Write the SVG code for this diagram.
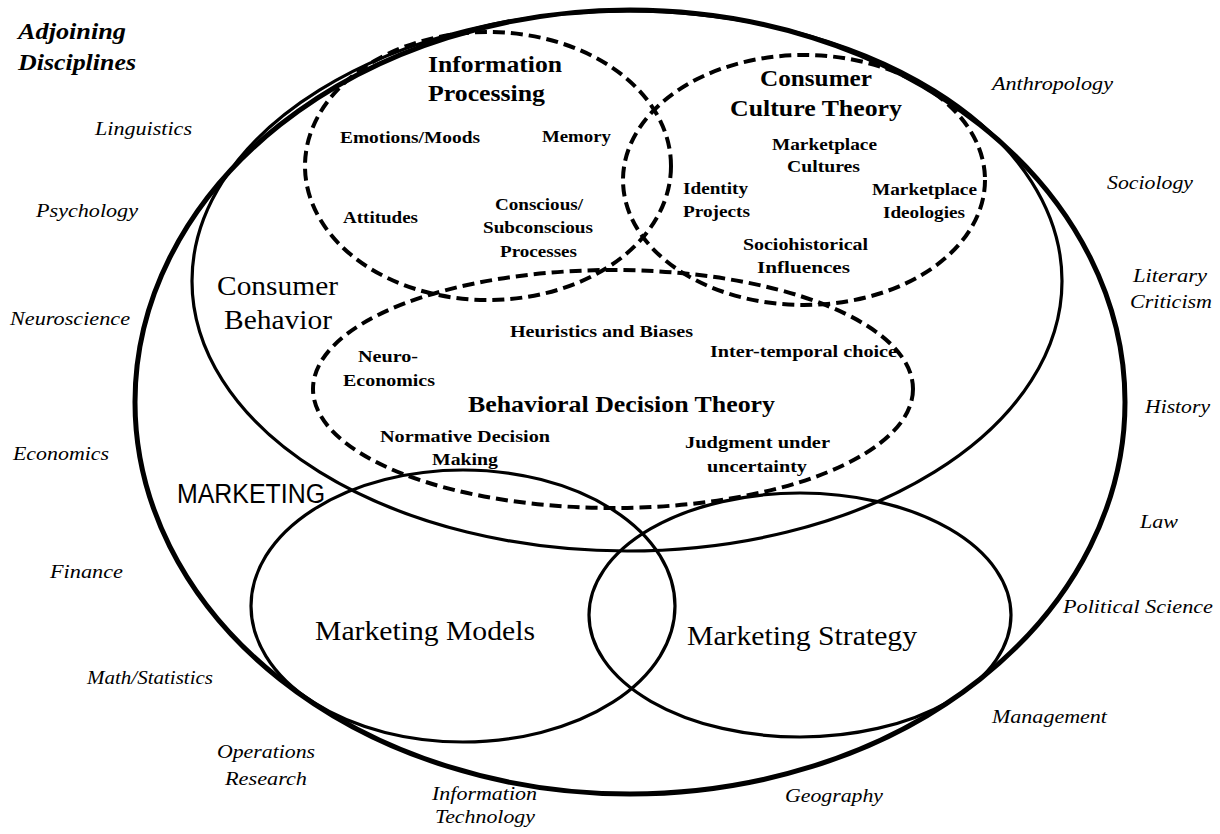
<svg xmlns="http://www.w3.org/2000/svg" width="1220" height="834" viewBox="0 0 1220 834">
<style>
.solid{fill:none;stroke:#000;stroke-width:3.2}
.outer{fill:none;stroke:#000;stroke-width:5}
.dash{fill:none;stroke:#000;stroke-width:4;stroke-dasharray:12 6}
.disc{font-family:"Liberation Serif","Times New Roman",serif;font-style:italic;font-size:19.5px;fill:#000}
.head{font-family:"Liberation Serif","Times New Roman",serif;font-style:italic;font-weight:bold;font-size:24px;fill:#000}
.lbl{font-family:"Liberation Serif","Times New Roman",serif;font-weight:bold;font-size:17.5px;fill:#000}
.big{font-family:"Liberation Serif","Times New Roman",serif;font-weight:bold;font-size:24px;fill:#000}
.reg{font-family:"Liberation Serif","Times New Roman",serif;font-size:28px;fill:#000}
.sans{font-family:"Liberation Sans",Arial,sans-serif;font-size:27px;fill:#000}
</style>
<rect width="1220" height="834" fill="#fff"/>
<g id="connectors"></g>
<g id="marketing">
<ellipse class="outer" cx="630" cy="402" rx="495" ry="392"/>
<text class="sans" x="177" y="503" textLength="148" lengthAdjust="spacingAndGlyphs">MARKETING</text>
</g>
<g id="consumer-behavior">
<ellipse class="solid" cx="627" cy="281" rx="435" ry="270"/>
<text class="reg" x="217" y="295" textLength="121" lengthAdjust="spacingAndGlyphs">Consumer</text>
<text class="reg" x="224" y="329" textLength="108" lengthAdjust="spacingAndGlyphs">Behavior</text>
</g>
<g id="marketing-models">
<ellipse class="solid" cx="463" cy="606" rx="212" ry="136"/>
<text class="reg" x="315" y="640" textLength="220" lengthAdjust="spacingAndGlyphs">Marketing Models</text>
</g>
<g id="marketing-strategy">
<ellipse class="solid" cx="800" cy="615" rx="211" ry="122"/>
<text class="reg" x="687" y="645" textLength="230" lengthAdjust="spacingAndGlyphs">Marketing Strategy</text>
</g>
<g id="information-processing">
<ellipse class="dash" cx="488" cy="166" rx="183" ry="134"/>
<text class="big" x="428" y="72" textLength="134" lengthAdjust="spacingAndGlyphs">Information</text>
<text class="big" x="428" y="101" textLength="117" lengthAdjust="spacingAndGlyphs">Processing</text>
<text class="lbl" x="340" y="143" textLength="140" lengthAdjust="spacingAndGlyphs">Emotions/Moods</text>
<text class="lbl" x="542" y="142" textLength="69" lengthAdjust="spacingAndGlyphs">Memory</text>
<text class="lbl" x="343" y="223" textLength="75" lengthAdjust="spacingAndGlyphs">Attitudes</text>
<text class="lbl" x="495" y="210" textLength="88" lengthAdjust="spacingAndGlyphs">Conscious/</text>
<text class="lbl" x="483" y="233" textLength="110" lengthAdjust="spacingAndGlyphs">Subconscious</text>
<text class="lbl" x="500" y="257" textLength="77" lengthAdjust="spacingAndGlyphs">Processes</text>
</g>
<g id="consumer-culture-theory">
<ellipse class="dash" cx="804" cy="180" rx="181" ry="125"/>
<text class="big" x="760" y="86" textLength="112" lengthAdjust="spacingAndGlyphs">Consumer</text>
<text class="big" x="730" y="116" textLength="172" lengthAdjust="spacingAndGlyphs">Culture Theory</text>
<text class="lbl" x="772" y="150" textLength="105" lengthAdjust="spacingAndGlyphs">Marketplace</text>
<text class="lbl" x="787" y="172" textLength="73" lengthAdjust="spacingAndGlyphs">Cultures</text>
<text class="lbl" x="683" y="194" textLength="65" lengthAdjust="spacingAndGlyphs">Identity</text>
<text class="lbl" x="683" y="217" textLength="67" lengthAdjust="spacingAndGlyphs">Projects</text>
<text class="lbl" x="872" y="195" textLength="105" lengthAdjust="spacingAndGlyphs">Marketplace</text>
<text class="lbl" x="883" y="218" textLength="82" lengthAdjust="spacingAndGlyphs">Ideologies</text>
<text class="lbl" x="743" y="250" textLength="125" lengthAdjust="spacingAndGlyphs">Sociohistorical</text>
<text class="lbl" x="757" y="273" textLength="93" lengthAdjust="spacingAndGlyphs">Influences</text>
</g>
<g id="behavioral-decision-theory">
<ellipse class="dash" cx="613" cy="389" rx="300" ry="119"/>
<text class="big" x="468" y="412" textLength="307" lengthAdjust="spacingAndGlyphs">Behavioral Decision Theory</text>
<text class="lbl" x="510" y="337" textLength="183" lengthAdjust="spacingAndGlyphs">Heuristics and Biases</text>
<text class="lbl" x="710" y="357" textLength="187" lengthAdjust="spacingAndGlyphs">Inter-temporal choice</text>
<text class="lbl" x="358" y="362" textLength="60" lengthAdjust="spacingAndGlyphs">Neuro-</text>
<text class="lbl" x="343" y="386" textLength="92" lengthAdjust="spacingAndGlyphs">Economics</text>
<text class="lbl" x="380" y="442" textLength="170" lengthAdjust="spacingAndGlyphs">Normative Decision</text>
<text class="lbl" x="432" y="465" textLength="66" lengthAdjust="spacingAndGlyphs">Making</text>
<text class="lbl" x="685" y="448" textLength="145" lengthAdjust="spacingAndGlyphs">Judgment under</text>
<text class="lbl" x="707" y="472" textLength="100" lengthAdjust="spacingAndGlyphs">uncertainty</text>
</g>
<g id="adjoining-disciplines">
<text class="head" x="18" y="39" textLength="108" lengthAdjust="spacingAndGlyphs">Adjoining</text>
<text class="head" x="18" y="70" textLength="118" lengthAdjust="spacingAndGlyphs">Disciplines</text>
<text class="disc" x="95" y="135" textLength="97" lengthAdjust="spacingAndGlyphs">Linguistics</text>
<text class="disc" x="36" y="217" textLength="102" lengthAdjust="spacingAndGlyphs">Psychology</text>
<text class="disc" x="10" y="325" textLength="120" lengthAdjust="spacingAndGlyphs">Neuroscience</text>
<text class="disc" x="13" y="460" textLength="96" lengthAdjust="spacingAndGlyphs">Economics</text>
<text class="disc" x="50" y="578" textLength="73" lengthAdjust="spacingAndGlyphs">Finance</text>
<text class="disc" x="87" y="684" textLength="126" lengthAdjust="spacingAndGlyphs">Math/Statistics</text>
<text class="disc" x="217" y="758" textLength="98" lengthAdjust="spacingAndGlyphs">Operations</text>
<text class="disc" x="225" y="785" textLength="82" lengthAdjust="spacingAndGlyphs">Research</text>
<text class="disc" x="432" y="800" textLength="105" lengthAdjust="spacingAndGlyphs">Information</text>
<text class="disc" x="435" y="823" textLength="100" lengthAdjust="spacingAndGlyphs">Technology</text>
<text class="disc" x="785" y="802" textLength="98" lengthAdjust="spacingAndGlyphs">Geography</text>
<text class="disc" x="992" y="723" textLength="115" lengthAdjust="spacingAndGlyphs">Management</text>
<text class="disc" x="1063" y="613" textLength="150" lengthAdjust="spacingAndGlyphs">Political Science</text>
<text class="disc" x="1140" y="528" textLength="38" lengthAdjust="spacingAndGlyphs">Law</text>
<text class="disc" x="1145" y="413" textLength="65" lengthAdjust="spacingAndGlyphs">History</text>
<text class="disc" x="1133" y="282" textLength="74" lengthAdjust="spacingAndGlyphs">Literary</text>
<text class="disc" x="1130" y="308" textLength="82" lengthAdjust="spacingAndGlyphs">Criticism</text>
<text class="disc" x="1107" y="189" textLength="86" lengthAdjust="spacingAndGlyphs">Sociology</text>
<text class="disc" x="992" y="90" textLength="121" lengthAdjust="spacingAndGlyphs">Anthropology</text>
</g>
</svg>
